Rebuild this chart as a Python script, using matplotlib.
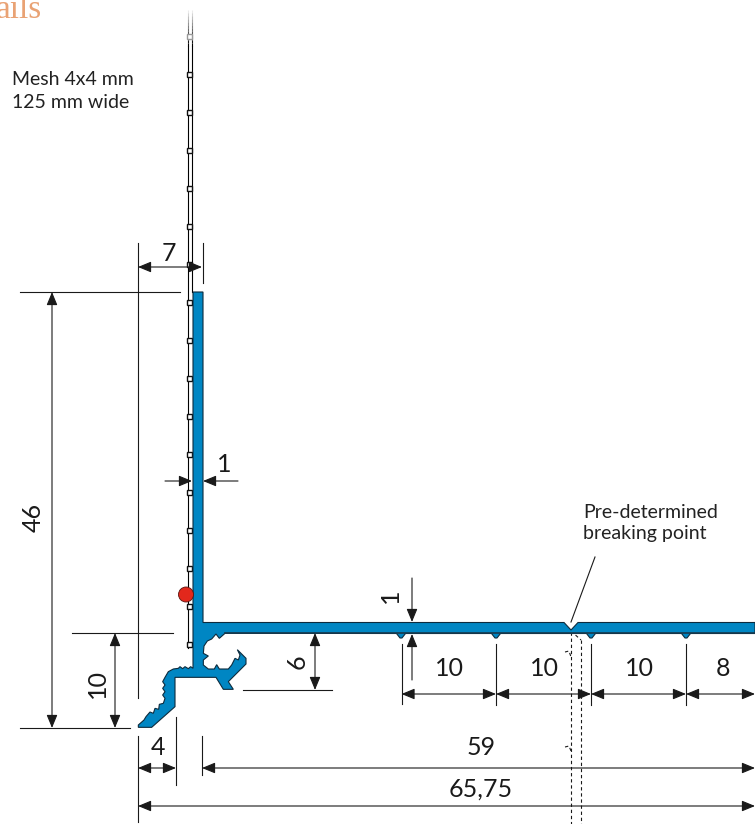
"""Section drawing of the corner profile with mesh, in drawing (pixel) coordinates."""
import matplotlib

matplotlib.use("Agg")
import matplotlib.pyplot as plt
from matplotlib.patches import Circle, Polygon, Rectangle

W, H = 755, 824
BLUE = "#0086c3"
DARK = "#1a1a1a"
FONT = ["Lato", "DejaVu Sans"]

# profile outline, right part in drawing coordinates
FLANGE = [(193, 292), (203, 292), (203, 622.5), (564, 622.5), (571, 630),
          (578, 622.5), (755, 622.5), (755, 633.5)]
NOTCH_X = [686, 591, 496, 401]
FOOT_ZOOM = [(315, 190), (298, 205), (288, 192), (275, 207), (262, 213), (252, 228),
             (250, 250), (265, 258), (250, 270), (250, 285), (265, 297), (283, 297),
             (290, 284), (298, 297), (325, 297), (335, 285), (345, 265), (355, 270),
             (360, 255), (352, 239), (378, 265), (378, 282), (325, 335), (340, 358),
             (310, 358), (288, 322), (165, 322), (165, 410), (95, 472), (55, 472),
             (55, 465), (72, 450), (78, 440), (90, 426), (100, 430), (105, 415),
             (116, 418), (118, 403), (130, 400), (135, 385), (128, 375), (135, 365),
             (128, 355), (135, 345), (128, 335), (135, 322), (145, 305), (160, 297),
             (175, 295), (180, 290), (188, 296), (195, 290), (205, 296), (212, 290),
             (219, 295)]

MESH_Y = [36, 74, 112, 150, 188, 226, 264, 302, 340, 378, 416, 454, 492, 530, 568, 606, 644]

# horizontal dimensions: y, x from, x to, label, label x, label y
H_DIMS = [
    (267, 138, 202, "7", 169, 253),
    (694, 401.5, 496, "10", 449, 668),
    (694, 496, 591, "10", 544, 668),
    (694, 591, 686, "10", 639, 668),
    (694, 686, 755, "8", 723, 668),
    (768, 138, 176, "4", 158, 747.5),
    (768, 202, 755, "59", 481, 747.5),
    (806, 138, 755, "65,75", 481, 789.5),
]
# vertical dimensions: x, y from, y to, label, label x, label y
V_DIMS = [
    (52, 292, 728, "46", 33, 517),
    (115, 633, 728, "10", 97, 684),
    (315, 633, 690, "6", 297, 662),
]
# witness lines: x0, y0, x1, y1
WITNESS = [
    (20, 292, 180, 292), (20, 728, 130, 728), (72, 633, 173, 633), (243, 690, 332, 690),
    (138, 243, 138, 698), (202.5, 243, 202.5, 283), (138, 736, 138, 822),
    (176, 717, 176, 785), (202, 736, 202, 775), (401.5, 644, 401.5, 704),
    (496, 644, 496, 705), (591, 644, 591, 705), (686, 644, 686, 705),
]

NOTES = [(12, 79, "Mesh 4x4 mm"), (12, 102, "125 mm wide"),
         (583, 512, "Pre-determined"), (583, 534, "breaking point")]


def dim_arrow(ax, start, end, style="<|-|>"):
    ax.annotate("", xy=end, xytext=start, annotation_clip=False,
                arrowprops=dict(arrowstyle=f"{style},head_length=0.8,head_width=0.33",
                                mutation_scale=10, color=DARK, lw=0.8,
                                shrinkA=0, shrinkB=0))


def draw_mesh(ax):
    # both wires fade out towards the top of the sheet
    steps = 12
    for i in range(steps):
        y0 = 10 + i * 3
        for x in (188.3, 192.3):
            ax.plot([x, x], [y0, y0 + 3], color="black", lw=0.8, alpha=(i + 1) / steps,
                    solid_capstyle="butt")
    ax.plot([188.3, 188.3], [46, 648], color="black", lw=0.8)
    ax.plot([192.3, 192.3], [46, 292], color="black", lw=0.8)
    for y in MESH_Y:
        edge = "#999999" if y == MESH_Y[0] else "#111111"
        ax.add_patch(Rectangle((186.8, y - 2.5), 5, 5, fc="white", ec=edge, lw=1.0, zorder=3))


def draw_profile(ax):
    pts = list(FLANGE)
    for x in NOTCH_X:
        pts += [(x + 4.5, 633.5), (x + 1, 638), (x - 1, 638), (x - 4.5, 633.5)]
    pts += [(120 + a / 3, 570 + b / 3) for a, b in FOOT_ZOOM]
    ax.add_patch(Polygon(pts, closed=True, fc=BLUE, ec="#0d2b3d", lw=0.8, zorder=4))
    # underside of the flat leg prints heavier than the rest of the outline
    ax.plot([225, 755], [633.2, 633.2], color="#17394d", lw=1.2, zorder=4.5)


def draw_dims(ax):
    for x0, y0, x1, y1 in WITNESS:
        ax.plot([x0, x1], [y0, y1], color=DARK, lw=0.8, zorder=2)
    for y, x0, x1, label, lx, ly in H_DIMS:
        dim_arrow(ax, (x0, y), (x1, y))
        ax.text(lx, ly, label, ha="center", va="center", fontsize=18, color=DARK, family=FONT)
    for x, y0, y1, label, lx, ly in V_DIMS:
        dim_arrow(ax, (x, y0), (x, y1))
        ax.text(lx, ly, label, ha="center", va="center", rotation=90, fontsize=18,
                color=DARK, family=FONT)
    # wall thickness arrows, pointing at the material from outside
    dim_arrow(ax, (165, 481), (192, 481), "-|>")
    dim_arrow(ax, (238, 481), (203, 481), "-|>")
    ax.text(224, 464, "1", ha="center", va="center", fontsize=18, color=DARK, family=FONT)
    dim_arrow(ax, (412, 578), (412, 622), "-|>")
    dim_arrow(ax, (412, 680), (412, 634), "-|>")
    ax.text(390, 596, "1", ha="center", va="center", rotation=90, fontsize=18,
            color=DARK, family=FONT)


def draw_break_part(ax):
    kw = dict(color=DARK, lw=0.8, ls=(0, (3, 2.5)), zorder=1)
    ax.plot([571, 571], [632, 824], **kw)
    ax.plot([581, 581], [640, 824], **kw)
    ax.plot([571, 581], [631, 640], **kw)
    ax.plot([565, 569, 571], [652, 651, 657], **kw)
    ax.plot([565, 569, 571], [747, 746, 751], **kw)
    ax.plot([595, 571], [557, 622], color=DARK, lw=0.8, zorder=5)


def main():
    fig = plt.figure(figsize=(W / 100, H / 100), dpi=100)
    ax = fig.add_axes([0, 0, 1, 1])
    ax.set_xlim(0, W)
    ax.set_ylim(H, 0)
    ax.axis("off")

    draw_break_part(ax)
    draw_mesh(ax)
    draw_profile(ax)
    draw_dims(ax)
    ax.add_patch(Circle((186, 594.5), 7.5, fc="#e2281c", ec="#5a1510", lw=0.6, zorder=6))

    ax.text(-4, 18, "ails", ha="left", va="baseline", fontsize=24, color="#e9a274",
            family="Liberation Serif")
    for x, y, label in NOTES:
        ax.text(x, y, label, ha="left", va="center", fontsize=14, color="#222222", family=FONT)

    fig.savefig("out.png", dpi=100)


if __name__ == "__main__":
    main()
